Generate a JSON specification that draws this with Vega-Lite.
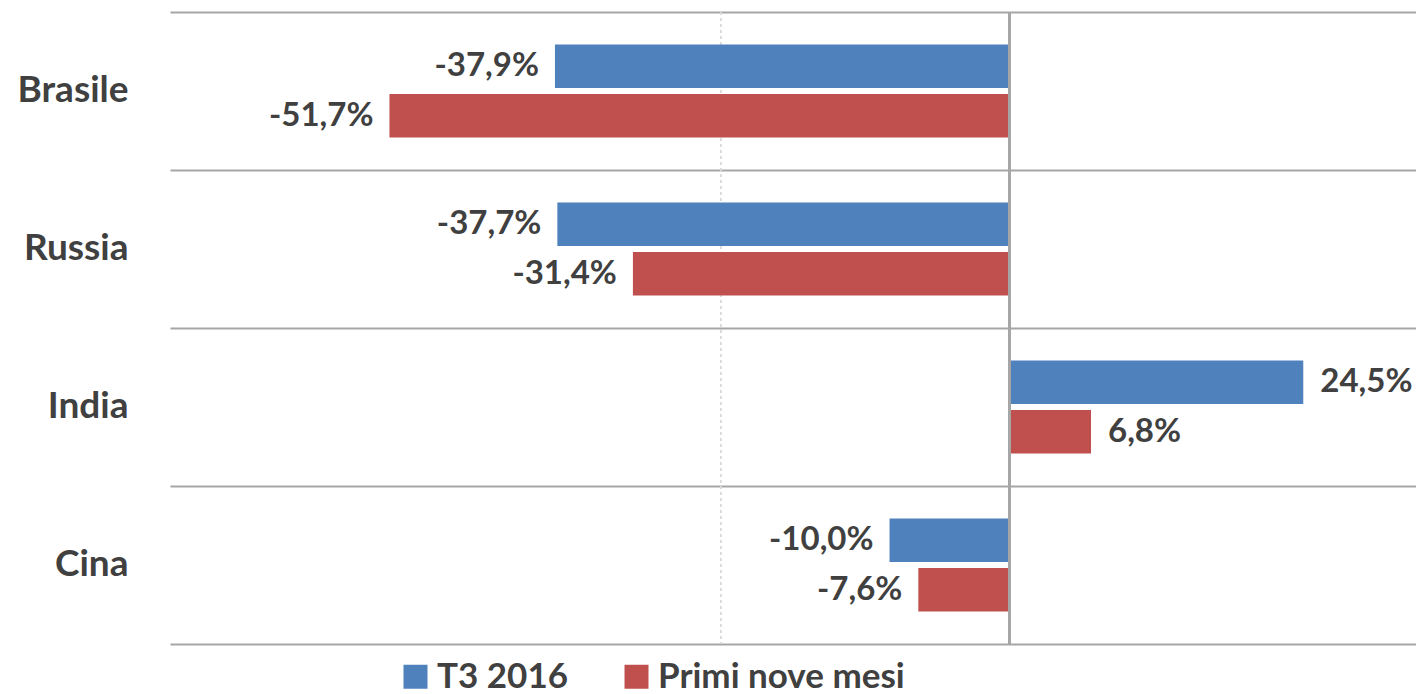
{
  "$schema": "https://vega.github.io/schema/vega-lite/v6.json",
  "width": 1246,
  "height": 632,
  "autosize": {"type": "none"},
  "padding": {"left": 170, "top": 12, "right": 0, "bottom": 50},
  "background": "white",
  "config": {
    "view": {"stroke": null},
    "locale": {
      "number": {"decimal": ",", "thousands": ".", "grouping": [3], "currency": ["€", ""], "minus": "-", "percent": "%"}
    },
    "font": "Lato"
  },
  "data": {
    "values": [
      {"paese": "Brasile", "serie": "T3 2016", "valore": -0.379},
      {"paese": "Brasile", "serie": "Primi nove mesi", "valore": -0.517},
      {"paese": "Russia", "serie": "T3 2016", "valore": -0.377},
      {"paese": "Russia", "serie": "Primi nove mesi", "valore": -0.314},
      {"paese": "India", "serie": "T3 2016", "valore": 0.245},
      {"paese": "India", "serie": "Primi nove mesi", "valore": 0.068},
      {"paese": "Cina", "serie": "T3 2016", "valore": -0.100},
      {"paese": "Cina", "serie": "Primi nove mesi", "valore": -0.076}
    ]
  },
  "encoding": {
    "y": {
      "field": "paese",
      "type": "nominal",
      "sort": ["Brasile", "Russia", "India", "Cina"],
      "scale": {"paddingInner": 0, "paddingOuter": 0},
      "axis": {
        "title": null,
        "ticks": false,
        "domain": false,
        "grid": true,
        "bandPosition": 0,
        "gridColor": "#A6A6A6",
        "gridWidth": 2,
        "labelFont": "Lato",
        "labelFontSize": 37,
        "labelFontWeight": "bold",
        "labelColor": "#404040",
        "labelPadding": 42
      }
    },
    "yOffset": {
      "field": "serie",
      "type": "nominal",
      "sort": ["T3 2016", "Primi nove mesi"],
      "scale": {"paddingInner": 0.121, "paddingOuter": 0.657}
    }
  },
  "layer": [
    {
      "mark": {"type": "rule", "color": "#D9D9D9", "strokeWidth": 1, "strokeDash": [3, 3]},
      "encoding": {
        "x": {"datum": -0.2408, "type": "quantitative"},
        "y": null,
        "yOffset": null
      }
    },
    {
      "mark": {"type": "bar"},
      "encoding": {
        "x": {
          "field": "valore",
          "type": "quantitative",
          "scale": {"domain": [-0.70, 0.339], "nice": false, "zero": false},
          "axis": {
            "title": null,
            "labels": false,
            "ticks": false,
            "grid": false,
            "domain": true,
            "domainColor": "#A6A6A6",
            "domainWidth": 2
          }
        },
        "color": {
          "field": "serie",
          "type": "nominal",
          "sort": ["T3 2016", "Primi nove mesi"],
          "scale": {"domain": ["T3 2016", "Primi nove mesi"], "range": ["#4F81BD", "#C0504D"]},
          "legend": {
            "title": null,
            "orient": "none",
            "direction": "horizontal",
            "legendX": 228,
            "legendY": 647,
            "symbolType": "square",
            "symbolSize": 576,
            "symbolStrokeWidth": 0,
            "symbolOpacity": 1,
            "labelFont": "Lato",
            "labelFontSize": 35,
            "labelFontWeight": "bold",
            "labelColor": "#404040",
            "labelOffset": 4,
            "columnPadding": 50,
            "labelLimit": 400
          }
        }
      }
    },
    {
      "mark": {"type": "rule", "color": "#A6A6A6", "strokeWidth": 2},
      "encoding": {
        "x": {"datum": 0, "type": "quantitative"},
        "y": null,
        "yOffset": null
      }
    },
    {
      "transform": [{"filter": "datum.valore < 0"}],
      "mark": {"type": "text", "align": "right", "baseline": "middle", "dx": -16, "font": "Lato", "fontSize": 33, "fontWeight": "bold", "color": "#404040"},
      "encoding": {
        "x": {"field": "valore", "type": "quantitative"},
        "text": {"field": "valore", "type": "quantitative", "format": ".1%"}
      }
    },
    {
      "transform": [{"filter": "datum.valore >= 0"}],
      "mark": {"type": "text", "align": "left", "baseline": "middle", "dx": 17, "font": "Lato", "fontSize": 33, "fontWeight": "bold", "color": "#404040"},
      "encoding": {
        "x": {"field": "valore", "type": "quantitative"},
        "text": {"field": "valore", "type": "quantitative", "format": ".1%"}
      }
    }
  ]
}
